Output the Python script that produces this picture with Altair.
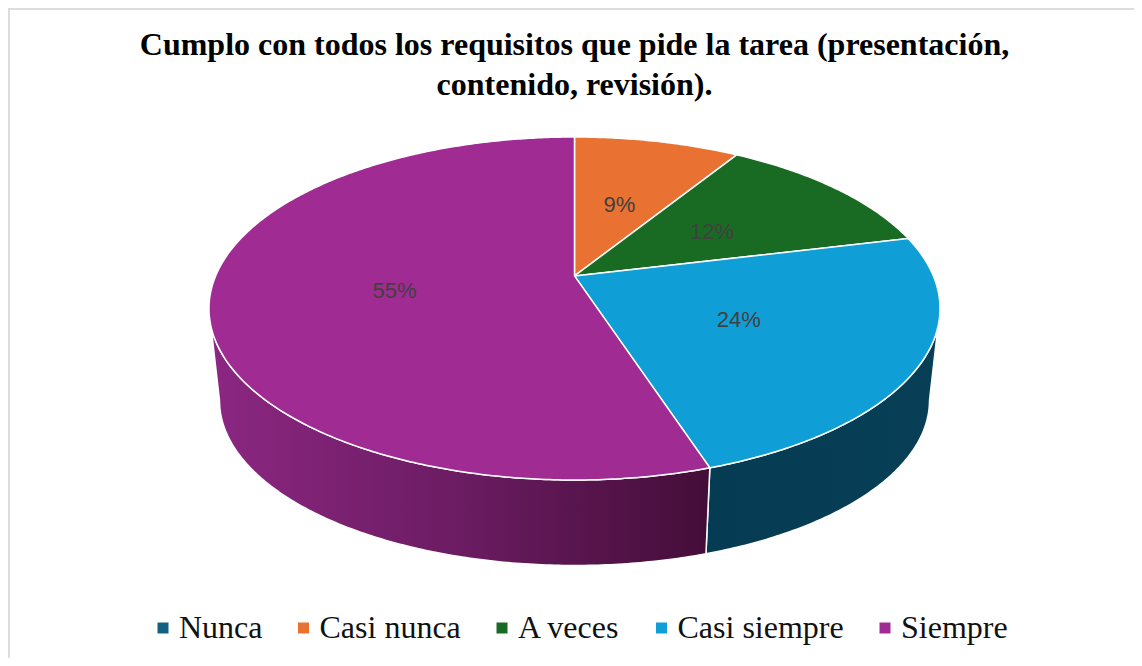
import math
import altair as alt

title_lines = ["Cumplo con todos los requisitos que pide la tarea (presentación,", "contenido, revisión)."]
categories = ["Nunca", "Casi nunca", "A veces", "Casi siempre", "Siempre"]
values = [0, 8.8, 12.4, 23.8, 55]
colors = ["#156082", "#E97132", "#196B24", "#0F9ED5", "#A02B93"]

# geometry of the tilted pie, in chart pixels relative to the ellipse centre
RX, RY = 365.5, 171.5
RX2, RY2, DROP = 355.0, 165.0, 92.0
C = -0.19
CENTER = [566.5, 300.5]
W, H = 1126, 650


def project(theta, r=1.0, rx=RX, ry=RY, dy=0.0):
    """Pie angle (clockwise from top) -> point of the perspective ellipse."""
    u = r * math.sin(theta)
    v = -r * math.cos(theta)
    d = 1 + C * v
    return [rx * u * math.sqrt(1 - C * C) / d, ry * (v + C) / d + dy]


def arc(a0, a1, **kw):
    n = max(2, int(abs(a1 - a0) / 0.01))
    return [project(a0 + (a1 - a0) * i / n, **kw) for i in range(n + 1)]


def feature(ring, **props):
    ring = ring + [ring[0]]
    return {"type": "Feature", "properties": props,
            "geometry": {"type": "Polygon", "coordinates": [ring]}}


total = sum(values)
slices, labels = [], []
angle = 0.0
bounds = {}
for cat, val in zip(categories, values):
    end = angle + 2 * math.pi * val / total
    bounds[cat] = (angle, end)
    if val > 0:
        slices.append(feature([project(0, r=0.0)] + arc(angle, end), category=cat))
        x, y = project((angle + end) / 2, r=0.5)
        labels.append({"lon": x, "lat": y, "label": f"{round(val)}%"})
    angle = end

right_extreme = math.pi - math.atan2(math.sqrt(1 - C * C), -C)
left_extreme = 2 * math.pi - right_extreme
split = bounds["Casi siempre"][1]


def side(a0, a1):
    bottom = arc(a0, a1, rx=RX2, ry=RY2, dy=DROP)
    return feature(arc(a0, a1) + bottom[::-1])


def geo(features):
    return alt.InlineData(values=features, format=alt.DataFormat(type="json"))


stroke = dict(stroke="white", strokeWidth=1.5)

# the frame shows on the left and top edges only
ox, oy = -CENTER[0] + 1, -CENTER[1] + 1
frame = alt.Chart(geo([{
    "type": "Feature", "properties": {},
    "geometry": {"type": "LineString",
                 "coordinates": [[ox, H - CENTER[1]], [ox, oy], [W - CENTER[0], oy]]},
}])).mark_geoshape(filled=False, stroke="#DDDDDD", strokeWidth=2)

side_blue = alt.Chart(geo([side(right_extreme, split)])).mark_geoshape(
    fill={"gradient": "linear", "x1": 0, "x2": 1, "y1": 0, "y2": 0,
          "stops": [{"offset": 0, "color": "#063C53"}, {"offset": 1, "color": "#073F56"}]},
    **stroke)
side_purple = alt.Chart(geo([side(split, left_extreme)])).mark_geoshape(
    fill={"gradient": "linear", "x1": 1, "x2": 0, "y1": 0, "y2": 0,
          "stops": [{"offset": 0, "color": "#440D38"}, {"offset": 0.5, "color": "#6B1C62"},
                    {"offset": 1, "color": "#8C2782"}]},
    **stroke)
top = alt.Chart(geo(slices)).mark_geoshape(**stroke).encode(
    color=alt.Color(
        "properties.category:N",
        scale=alt.Scale(domain=categories, range=colors),
        legend=alt.Legend(
            title=None, orient="none", direction="horizontal", columns=5,
            legendX=139, legendY=604, symbolType="square", symbolSize=121,
            symbolStrokeWidth=0, labelFont="Liberation Serif", labelFontSize=32,
            labelColor="#111111", labelOffset=0, columnPadding=24.5, labelLimit=400,
        ),
    )
)
text = alt.Chart(alt.Data(values=labels)).mark_text(
    font="Liberation Sans", fontSize=22, color="#404040", dy=2
).encode(longitude="lon:Q", latitude="lat:Q", text="label:N")

chart = (
    alt.layer(frame, side_blue, side_purple, top, text)
    .properties(
        width=W, height=H, padding=0, autosize=alt.AutoSizeParams(type="none"),
        title=alt.TitleParams(
            title_lines, font="Liberation Serif", fontSize=32, fontWeight="bold",
            color="#000000", anchor="middle", frame="group", offset=-94, lineHeight=40, dx=3.5,
        ),
    )
    .project(type="identity", scale=1, translate=CENTER)
    .configure_view(stroke=None)
    .configure(background="white")
)

chart.save("out.html", embed_options={"renderer": "svg", "actions": False})
